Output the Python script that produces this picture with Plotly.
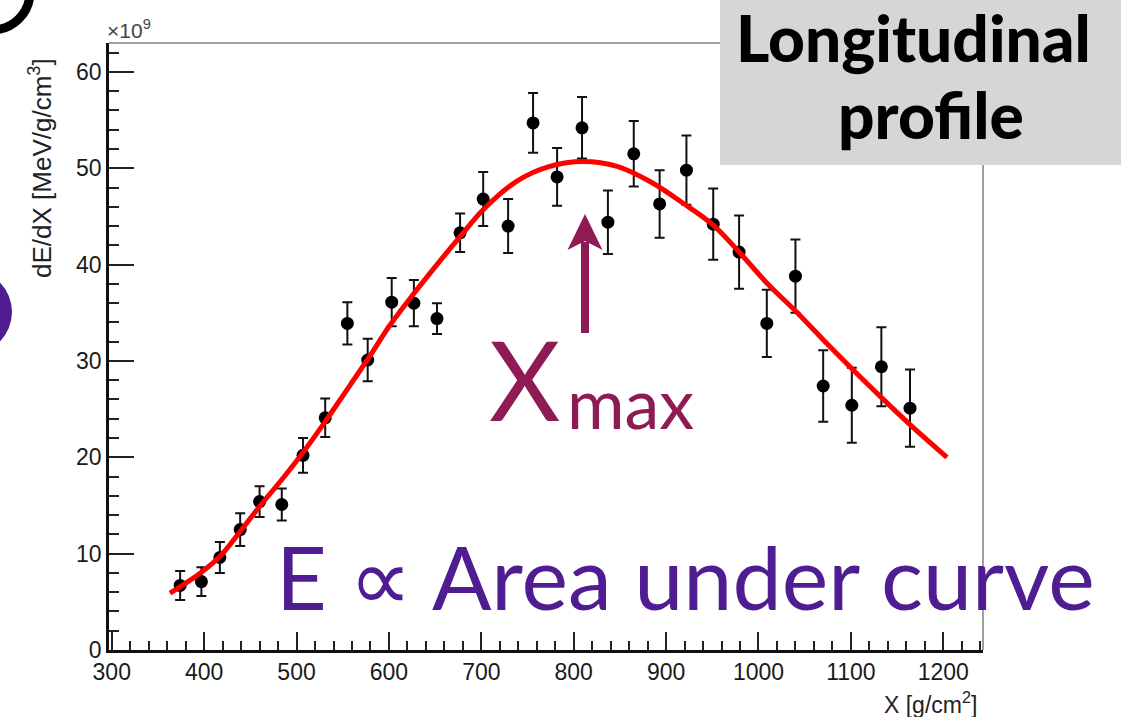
import plotly.graph_objects as go

# ---------------- data ----------------
depth = [374, 397, 417, 439, 460, 484, 507, 531, 555, 577, 603, 627, 652, 677,
         702, 729, 756, 782, 809, 837, 865, 893, 922, 951, 979, 1009, 1040,
         1070, 1101, 1133, 1164]
dedx = [6.7, 7.1, 9.6, 12.5, 15.4, 15.1, 20.2, 24.1, 33.9, 30.1, 36.1, 36.0,
        34.4, 43.3, 46.8, 44.0, 54.7, 49.1, 54.2, 44.4, 51.5, 46.3, 49.8, 44.2,
        41.3, 33.9, 38.8, 27.4, 25.4, 29.4, 25.1]
dedx_err = [1.5, 1.5, 1.6, 1.7, 1.6, 1.65, 1.8, 2.0, 2.2, 2.2, 2.5, 2.4, 1.6,
            2.0, 2.8, 2.8, 3.1, 3.0, 3.2, 3.3, 3.4, 3.5, 3.6, 3.7, 3.8, 3.5,
            3.8, 3.7, 3.9, 4.1, 4.0]

fit_x = [363, 396, 417, 439, 460, 485, 507, 531, 558, 580, 601, 627, 652, 677,
         702, 739, 774, 810, 847, 883, 918, 951, 980, 1009, 1042, 1070, 1099,
         1132, 1164, 1204]
fit_y = [5.9, 8.0, 9.7, 12.3, 14.9, 17.8, 20.5, 23.7, 27.5, 30.6, 33.7, 37.0,
         40.0, 42.9, 45.7, 48.7, 50.2, 50.7, 50.2, 48.6, 46.4, 44.1, 41.2,
         38.1, 35.0, 32.2, 29.4, 26.3, 23.4, 20.0]

x_tickvals = [300, 400, 500, 600, 700, 800, 900, 1000, 1100, 1200]
y_tickvals = [0, 10, 20, 30, 40, 50, 60]

# ---------------- layout helpers (pixel -> paper) ----------------
W, H = 1121, 717
L, R, T, B = 109, 983, 43, 650


def px(xp):
    return (xp - L) / (R - L)


def py(yp):
    return (B - yp) / (B - T)


MAROON = "#8E1B53"
PURPLE = "#4F1C91"
AXFONT = "Liberation Sans, Arial, sans-serif"
GILL = "Lato, 'Open Sans', sans-serif"

fig = go.Figure()

fig.add_trace(go.Scatter(
    x=depth, y=dedx, mode="markers",
    marker=dict(color="black", size=13),
    error_y=dict(type="data", array=dedx_err, color="#111111",
                 thickness=2, width=5),
    hoverinfo="skip", showlegend=False,
))
fig.add_trace(go.Scatter(
    x=fit_x, y=fit_y, mode="lines",
    line=dict(color="#ff0000", width=5, shape="spline", smoothing=1.0),
    hoverinfo="skip", showlegend=False,
))

shapes = [
    # ROOT frame (top / right)
    dict(type="line", xref="paper", yref="paper", x0=0, x1=1, y0=1, y1=1,
         line=dict(color="#808080", width=1.5)),
    dict(type="line", xref="paper", yref="paper", x0=1, x1=1, y0=0, y1=1,
         line=dict(color="#808080", width=1.5)),
    # grey title box
    dict(type="rect", xref="paper", yref="paper", x0=px(720), x1=px(1130),
         y0=py(165), y1=py(-10), fillcolor="#D6D6D6", line=dict(width=0)),
    # Xmax arrow shaft
    dict(type="line", xref="paper", yref="paper", x0=px(585), x1=px(585),
         y0=py(333), y1=py(242), line=dict(color=MAROON, width=8)),
    # Xmax arrow head
    dict(type="path", xref="paper", yref="paper",
         path=f"M {px(585)} {py(214)} L {px(602.5)} {py(250)} L {px(585)} {py(241)} "
              f"L {px(567.5)} {py(250)} Z",
         fillcolor=MAROON, line=dict(width=0)),
    # decorative slide circles at the edge
    dict(type="circle", xref="paper", yref="paper", x0=px(-46), x1=px(30),
         y0=py(30), y1=py(-46), line=dict(color="black", width=9)),
    dict(type="circle", xref="paper", yref="paper", x0=px(-72), x1=px(12),
         y0=py(354), y1=py(270), fillcolor=PURPLE, line=dict(width=0)),
]

annotations = [
    dict(text="Longitudinal", x=px(913), y=py(38), xref="paper", yref="paper",
         showarrow=False, xanchor="center", yanchor="middle",
         font=dict(family=GILL, size=64, color="black", weight=900)),
    dict(text="profile", x=px(931), y=py(115), xref="paper", yref="paper",
         showarrow=False, xanchor="center", yanchor="middle",
         font=dict(family=GILL, size=64, color="black", weight=900)),
    dict(text="X", x=px(487), y=py(378), xref="paper", yref="paper",
         showarrow=False, xanchor="left", yanchor="middle",
         font=dict(family=GILL, size=110, color=MAROON)),
    dict(text="max", x=px(565), y=py(402), xref="paper", yref="paper",
         showarrow=False, xanchor="left", yanchor="middle",
         font=dict(family=GILL, size=70, color=MAROON)),
    dict(text="E ∝ Area under curve", x=px(274), y=py(576), xref="paper",
         yref="paper", showarrow=False, xanchor="left", yanchor="middle",
         font=dict(family=GILL, size=88, color=PURPLE)),
    dict(text="dE/dX [MeV/g/cm<sup>3</sup>]", x=px(40), y=py(168),
         xref="paper", yref="paper", showarrow=False, textangle=-90,
         xanchor="center", yanchor="middle",
         font=dict(family=AXFONT, size=26, color="#222222")),
    dict(text="X [g/cm<sup>2</sup>]", x=px(979), y=py(703), xref="paper",
         yref="paper", showarrow=False, xanchor="right", yanchor="middle",
         font=dict(family=AXFONT, size=23, color="#222222")),
    dict(text="×10<sup>9</sup>", x=px(105), y=py(29), xref="paper",
         yref="paper", showarrow=False, xanchor="left", yanchor="middle",
         font=dict(family=AXFONT, size=21, color="#444444")),
]

fig.update_layout(
    width=W, height=H,
    margin=dict(l=L, r=W - R, t=T, b=H - B, pad=0),
    paper_bgcolor="white", plot_bgcolor="white",
    showlegend=False,
    shapes=shapes, annotations=annotations,
    xaxis=dict(
        range=[297, 1243], tickvals=x_tickvals, ticks="inside", ticklen=18,
        tickwidth=1.5, tickcolor="#222", showline=True, linecolor="#111",
        linewidth=2.5, showgrid=False, zeroline=False,
        ticklabelstandoff=0,
        tickfont=dict(family=AXFONT, size=23, color="#1a1a1a"),
        minor=dict(dtick=20, tick0=0, ticks="inside", ticklen=9,
                   tickwidth=1.5, tickcolor="#222", showgrid=False),
    ),
    yaxis=dict(
        range=[0, 63], tickvals=y_tickvals, ticks="inside", ticklen=25,
        tickwidth=1.5, tickcolor="#222", showline=True, linecolor="#111",
        linewidth=2.5, showgrid=False, zeroline=False,
        tickfont=dict(family=AXFONT, size=23, color="#1a1a1a"),
        minor=dict(dtick=2, tick0=0, ticks="inside", ticklen=10,
                   tickwidth=1.5, tickcolor="#222", showgrid=False),
    ),
)

fig.write_html("out.html")
